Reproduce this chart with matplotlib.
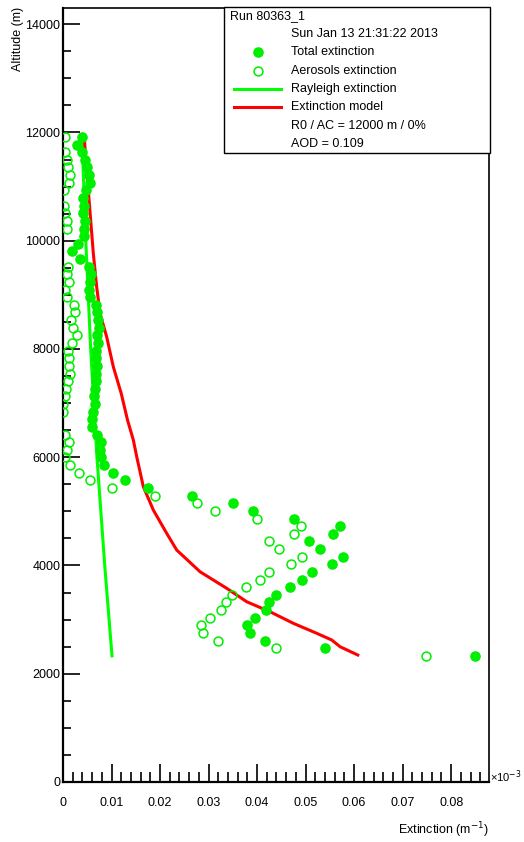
import numpy as np
import matplotlib

matplotlib.use("Agg")
import matplotlib.pyplot as plt
from matplotlib.lines import Line2D
from matplotlib.patches import Rectangle
from matplotlib.ticker import MultipleLocator

plt.rcParams["font.family"] = ["Liberation Sans", "DejaVu Sans"]

# Altitude bins (m), bottom to top
altitude = [
    2330, 2471, 2612, 2753, 2894, 3035, 3176, 3317, 3458, 3599,
    3740, 3881, 4022, 4163, 4304, 4445, 4586, 4727, 4868, 5009,
    5150, 5291, 5432, 5573, 5714, 5855, 5996, 6137, 6278, 6419,
    6560, 6701, 6842, 6983, 7124, 7265, 7406, 7547, 7688, 7829,
    7970, 8111, 8252, 8393, 8534, 8675, 8816, 8957, 9098, 9239,
    9380, 9521, 9662, 9803, 9944, 10085, 10226, 10367, 10508, 10649,
    10790, 10931, 11072, 11213, 11354, 11495, 11636, 11777, 11918,
]

# Total extinction (m^-1)
total_ext = [
    0.0849, 0.0539, 0.0417, 0.0386, 0.0380, 0.0396, 0.0419, 0.0425, 0.0439, 0.0467,
    0.0493, 0.0513, 0.0555, 0.0578, 0.0530, 0.0507, 0.0557, 0.0571, 0.0477, 0.0391,
    0.0351, 0.0265, 0.0176, 0.0128, 0.0104, 0.0085, 0.0078, 0.0077, 0.0079, 0.0070,
    0.0060, 0.0060, 0.0062, 0.0066, 0.0063, 0.0066, 0.0069, 0.0067, 0.0071, 0.0069,
    0.0068, 0.0072, 0.0070, 0.0074, 0.0072, 0.0070, 0.0068, 0.0056, 0.0053, 0.0055,
    0.0057, 0.0054, 0.0036, 0.0018, 0.0031, 0.0043, 0.0043, 0.0045, 0.0042, 0.0044,
    0.0041, 0.0047, 0.0055, 0.0054, 0.0049, 0.0045, 0.0040, 0.0029, 0.0040,
]

# Aerosols extinction (m^-1); nan where the value falls below zero
aerosol_ext = [
    0.0748, 0.0439, 0.0319, 0.0289, 0.0284, 0.0302, 0.0325, 0.0335, 0.0348, 0.0377,
    0.0405, 0.0425, 0.0470, 0.0493, 0.0446, 0.0425, 0.0477, 0.0491, 0.0399, 0.0313,
    0.0276, 0.0190, 0.0102, 0.0056, 0.0032, 0.0014, 0.0004, 0.0008, 0.0013, 0.0004,
    np.nan, np.nan, 0.0001, 0.0001, 0.0004, 0.0007, 0.0010, 0.0014, 0.0013, 0.0012,
    0.0011, 0.0018, 0.0028, 0.0020, 0.0016, 0.0025, 0.0022, 0.0008, 0.0004, 0.0013,
    0.0008, 0.0011, np.nan, np.nan, np.nan, np.nan, 0.0008, 0.0008, 0.0004, 0.0003,
    np.nan, 0.0003, 0.0012, 0.0014, 0.0011, 0.0008, 0.0004, np.nan, 0.0004,
]

# Rayleigh extinction curve
rayleigh_alt = [2330, 4000, 6000, 8000, 10000, 11918]
rayleigh_ext = [0.0101, 0.0086, 0.0070, 0.0057, 0.0047, 0.0039]

# Extinction model curve
model_alt = [11888, 11304, 10688, 9765, 9148, 8657, 8225, 7671, 7179, 6686, 6317, 6008,
             5454, 5024, 4593, 4285, 3884, 3578, 3330, 3145, 2931, 2747, 2623, 2499, 2346]
model_ext = [0.00440, 0.00488, 0.00543, 0.00625, 0.00694, 0.00763, 0.00900, 0.01037,
             0.01200, 0.01330, 0.01450, 0.01520, 0.01656, 0.01862, 0.02138, 0.02344,
             0.02825, 0.03375, 0.03787, 0.04268, 0.04749, 0.05230, 0.05540, 0.05711, 0.06076]

x_ticks = [0, 0.01, 0.02, 0.03, 0.04, 0.05, 0.06, 0.07, 0.08]
x_tick_labels = ["0", "0.01", "0.02", "0.03", "0.04", "0.05", "0.06", "0.07", "0.08"]
y_ticks = [0, 2000, 4000, 6000, 8000, 10000, 12000, 14000]

legend_lines = [
    "Run 80363_1",
    "Sun Jan 13 21:31:22 2013",
    "Total extinction",
    "Aerosols extinction",
    "Rayleigh extinction",
    "Extinction model",
    "R0 / AC = 12000 m / 0%",
    "AOD = 0.109",
]

GREEN = "#00ee00"
RED = "#ff0000"
W, H = 524, 842


def fx(px):
    return px / W


def fy(py):
    return 1 - py / H


fig = plt.figure(figsize=(W / 100, H / 100), dpi=100)
ax = fig.add_axes([fx(63), fy(782), (489 - 63) / W, (782 - 8) / H])

ax.plot(rayleigh_ext, rayleigh_alt, color="#00ff00", lw=2.2, zorder=2)
ax.plot(model_ext, model_alt, color=RED, lw=2.2, zorder=3)
ax.plot(total_ext, altitude, "o", color=GREEN, ms=6.6, mec=GREEN, zorder=4)
ax.plot(aerosol_ext, altitude, "o", mfc="none", mec=GREEN, mew=1.1, ms=6.4, zorder=4)

ax.set_xlim(0, 0.0878)
ax.set_ylim(0, 14300)
ax.set_xticks(x_ticks)
ax.set_xticklabels(x_tick_labels)
ax.set_yticks(y_ticks)
ax.xaxis.set_minor_locator(MultipleLocator(0.002))
ax.yaxis.set_minor_locator(MultipleLocator(500))
ax.tick_params(which="both", direction="in", top=False, right=False, labelsize=9, width=1.2)
ax.tick_params(axis="x", which="major", length=13, pad=11)
ax.tick_params(axis="x", which="minor", length=7)
ax.tick_params(axis="y", which="major", length=12, pad=2)
ax.tick_params(axis="y", which="minor", length=6)
for s in ax.spines.values():
    s.set_linewidth(1.2)
ax.spines["left"].set_linewidth(1.6)
ax.spines["bottom"].set_linewidth(1.6)

fig.text(fx(18), fy(7), "Altitude (m)", rotation=90, ha="center", va="top", fontsize=9)
fig.text(fx(489), fy(830), "Extinction (m$^{-1}$)", ha="right", va="center", fontsize=9)
fig.text(fx(490), fy(777), "\u00d710$^{-3}$", ha="left", va="center", fontsize=8)

# legend box drawn by hand (ROOT style)
fig.patches.append(Rectangle((fx(224), fy(153)), (490 - 224) / W, (153 - 7) / H,
                             transform=fig.transFigure, facecolor="white",
                             edgecolor="black", lw=1.0, zorder=5))
row_y = [16, 34, 52, 71, 89, 107, 126, 144]
fig.text(fx(230), fy(row_y[0]), legend_lines[0], ha="left", va="center", fontsize=9, zorder=6)
for text, yy in zip(legend_lines[1:], row_y[1:]):
    fig.text(fx(291), fy(yy), text, ha="left", va="center", fontsize=9, zorder=6)
fig.lines.append(Line2D([fx(258)], [fy(52)], marker="o", color=GREEN, ms=6.6,
                        transform=fig.transFigure, zorder=6))
fig.lines.append(Line2D([fx(258)], [fy(71)], marker="o", mfc="none", mec=GREEN, mew=1.1,
                        ms=6.4, transform=fig.transFigure, zorder=6))
fig.lines.append(Line2D([fx(234), fx(281)], [fy(89), fy(89)], color="#00ff00", lw=2.2,
                        transform=fig.transFigure, zorder=6))
fig.lines.append(Line2D([fx(234), fx(281)], [fy(107), fy(107)], color=RED, lw=2.2,
                        transform=fig.transFigure, zorder=6))

fig.savefig("out.png", dpi=100, facecolor="white")
